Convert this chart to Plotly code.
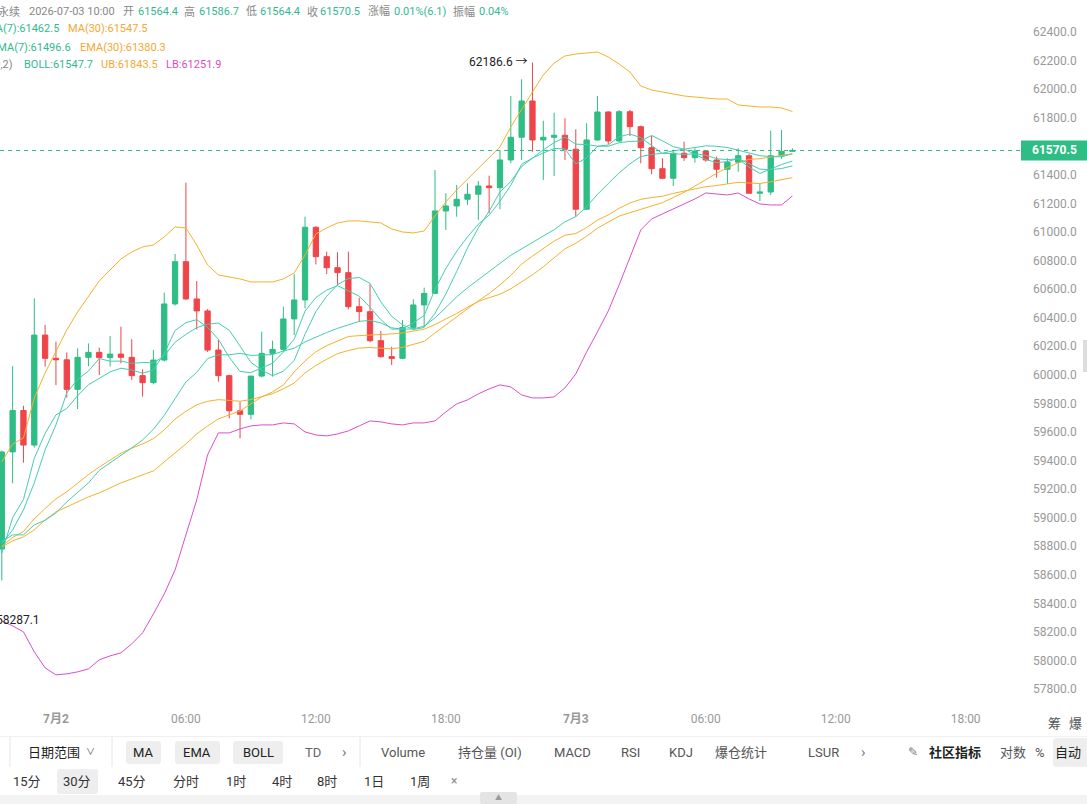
import plotly.graph_objects as go

# ---------------- data ----------------
# 30-minute candles, first = 7月1 21:30, last = 7月3 10:00
candle_idx = list(range(74))

opens = [58780, 59460, 59750, 59508, 60278, 60115, 60105, 59898, 60122, 60157,
         60120, 60145, 60122, 59994, 59945, 60103, 60496, 60792, 60531, 60447,
         60173, 59994, 59748, 59723, 59991, 60150, 60178, 60391, 60524, 61033,
         60827, 60750, 60715, 60477, 60442, 60239, 60127, 60115, 60332, 60489,
         60570, 61147, 61182, 61229, 61264, 61322, 61310, 61504, 61663, 61917,
         61644, 61663, 61677, 61579, 61159, 61644, 61840, 61637, 61842, 61737,
         61590, 61443, 61376, 61551, 61520, 61567, 61504, 61439, 61488, 61534,
         61271, 61280, 61534, 61564.4]
highs = [59470, 60060, 59783, 60535, 60349, 60232, 60157, 60185, 60220, 60190,
         60271, 60337, 60250, 60038, 60173, 60575, 60846, 61345, 60657, 60460,
         60243, 60000, 59811, 59992, 60302, 60239, 60477, 60704, 61107, 61040,
         60862, 60858, 60862, 60540, 60634, 60307, 60197, 60384, 60528, 60610,
         61434, 61271, 61329, 61341, 61357, 61394, 61574, 61952, 62069, 62186.6,
         61779, 61835, 61796, 61719, 61761, 61952, 61845, 61854, 61854, 61745,
         61672, 61516, 61574, 61632, 61586, 61574, 61527, 61516, 61586, 61546,
         61336, 61709, 61714, 61586.7]
lows = [58560, 59240, 59385, 59490, 60057, 59928, 59840, 59760, 60061, 59998,
        60057, 60080, 59963, 59847, 59933, 60092, 60485, 60525, 60318, 60160,
        59952, 59695, 59555, 59688, 59982, 59987, 60162, 60278, 60466, 60773,
        60706, 60629, 60458, 60372, 60227, 60120, 60068, 60110, 60314, 60337,
        60565, 61014, 61107, 61189, 61084, 61131, 61159, 61481, 61504, 61562,
        61364, 61392, 61504, 61107, 61154, 61640, 61614, 61630, 61672, 61481,
        61404, 61370, 61322, 61497, 61485, 61492, 61380, 61336, 61422, 61268,
        61217, 61259, 61511, 61564.4]
closes = [59460, 59750, 59508, 60278, 60115, 60105, 59898, 60122, 60157, 60120,
          60145, 60122, 59994, 59945, 60103, 60496, 60792, 60531, 60447, 60173,
          59994, 59748, 59723, 59991, 60150, 60178, 60391, 60524, 61033, 60827,
          60750, 60715, 60477, 60442, 60239, 60127, 60115, 60332, 60489, 60570,
          61147, 61182, 61229, 61264, 61322, 61310, 61504, 61663, 61917, 61644,
          61663, 61677, 61579, 61159, 61644, 61840, 61637, 61842, 61737, 61590,
          61443, 61376, 61551, 61520, 61567, 61504, 61439, 61488, 61534, 61271,
          61280, 61534, 61564.4, 61570.5]

ma7 = [58816, 58914, 59054, 59243, 59474, 59649, 59873, 59968, 60026, 60114,
       60095, 60096, 60080, 60086, 60084, 60132, 60228, 60283, 60330, 60355,
       60362, 60312, 60201, 60087, 60032, 59994, 60025, 60101, 60284, 60442,
       60550, 60631, 60674, 60681, 60640, 60511, 60409, 60350, 60317, 60331,
       60431, 60566, 60723, 60888, 61029, 61146, 61280, 61353, 61458, 61518,
       61575, 61625, 61664, 61615, 61612, 61601, 61600, 61625, 61634, 61636,
       61676, 61638, 61597, 61580, 61541, 61507, 61486, 61492, 61515, 61475,
       61440, 61436, 61444, 61462.5]
ema7 = [58750, 59000, 59127, 59415, 59590, 59719, 59764, 59854, 59930, 59978,
        60020, 60046, 60033, 60011, 60034, 60150, 60310, 60365, 60386, 60333,
        60248, 60123, 60023, 60015, 60049, 60081, 60159, 60250, 60446, 60541,
        60593, 60624, 60587, 60551, 60473, 60386, 60319, 60322, 60364, 60415,
        60598, 60744, 60865, 60965, 61054, 61118, 61215, 61327, 61474, 61517,
        61553, 61584, 61583, 61477, 61519, 61599, 61609, 61667, 61685, 61661,
        61606, 61549, 61549, 61542, 61548, 61537, 61513, 61506, 61513, 61453,
        61410, 61441, 61472, 61496.6]
ma30 = [58795, 58837, 58865, 58914, 58984, 59040, 59075, 59110, 59145, 59173,
        59208, 59243, 59271, 59299, 59327, 59390, 59453, 59516, 59586, 59642,
        59691, 59719, 59747, 59796, 59845, 59880, 59929, 60020, 60097, 60161,
        60204, 60236, 60268, 60274, 60278, 60279, 60286, 60293, 60304, 60319,
        60352, 60388, 60429, 60473, 60513, 60540, 60564, 60602, 60651, 60700,
        60756, 60820, 60882, 60921, 60970, 61026, 61067, 61111, 61135, 61160,
        61183, 61205, 61241, 61277, 61321, 61367, 61411, 61450, 61485, 61508,
        61513, 61524, 61535, 61547.5]
ema30 = [58800, 58861, 58903, 58992, 59064, 59131, 59181, 59242, 59301, 59354,
         59405, 59451, 59486, 59516, 59553, 59614, 59690, 59744, 59790, 59814,
         59826, 59821, 59815, 59826, 59847, 59868, 59902, 59942, 60013, 60065,
         60109, 60148, 60170, 60187, 60191, 60186, 60182, 60192, 60211, 60234,
         60293, 60350, 60407, 60462, 60518, 60569, 60629, 60696, 60775, 60831,
         60884, 60936, 60977, 60989, 61031, 61083, 61119, 61166, 61203, 61228,
         61241, 61250, 61270, 61286, 61304, 61317, 61325, 61335, 61348, 61343,
         61339, 61351, 61365, 61380.3]
boll_mid = [58834, 58879, 58879, 58949, 58981, 59033, 59110, 59180, 59243, 59331,
            59383, 59432, 59488, 59544, 59618, 59716, 59835, 59950, 60017, 60113,
            60140, 60140, 60150, 60136, 60138, 60142, 60166, 60186, 60230, 60265,
            60296, 60325, 60349, 60374, 60381, 60363, 60329, 60319, 60321, 60341,
            60398, 60470, 60545, 60609, 60668, 60724, 60780, 60837, 60881, 60922,
            60968, 61016, 61071, 61107, 61177, 61263, 61339, 61414, 61477, 61528,
            61542, 61552, 61568, 61581, 61593, 61603, 61600, 61591, 61572, 61553,
            61534, 61527, 61526, 61547.7]
boll_ub = [59390, 59516, 59558, 59838, 60013, 60167, 60314, 60440, 60545, 60657,
           60734, 60811, 60860, 60895, 60909, 60965, 61035, 61028, 60909, 60769,
           60699, 60685, 60671, 60650, 60650, 60650, 60671, 60713, 60839, 60986,
           61028, 61063, 61077, 61077, 61070, 61063, 61021, 61000, 60993, 61007,
           61112, 61210, 61294, 61371, 61448, 61518, 61595, 61735, 61861, 61980,
           62099, 62183, 62232, 62246, 62253, 62260, 62225, 62176, 62120, 62022,
           61994, 61980, 61966, 61952, 61945, 61938, 61931, 61931, 61889, 61882,
           61875, 61875, 61868, 61843.5]
boll_lb = [58277, 58242, 58200, 58060, 57948, 57899, 57906, 57920, 57941, 58004,
           58032, 58053, 58116, 58193, 58326, 58466, 58634, 58872, 59124, 59439,
           59593, 59593, 59621, 59642, 59649, 59649, 59663, 59656, 59600, 59579,
           59572, 59586, 59607, 59642, 59677, 59670, 59656, 59649, 59663, 59663,
           59677, 59740, 59796, 59824, 59866, 59901, 59929, 59915, 59859, 59838,
           59838, 59845, 59908, 60006, 60160, 60300, 60447, 60629, 60818, 61014,
           61091, 61126, 61161, 61196, 61231, 61273, 61266, 61259, 61273, 61231,
           61196, 61189, 61189, 61251.9]

x_tick_idx = [5, 17, 29, 41, 53, 65, 77, 89]
x_tick_text = ["<b>7月2</b>", "06:00", "12:00", "18:00", "<b>7月3</b>", "06:00", "12:00", "18:00"]
# 61600.0 sits under the last-price tag in the reference, so it is not shown
y_tick_vals = [v for v in [57800 + 200 * k for k in range(24)] if v != 61600]
y_tick_text = [f"{v:.1f}" for v in y_tick_vals]

last_price = 61570.5
high_mark = 62186.6
low_mark = 58287.1

# ---------------- styling ----------------
GREEN = "#2ebd85"
RED = "#ef454a"
TEAL = "#45cdb0"
ORANGE = "#f5b12c"
MAGENTA = "#db4fcb"
TEAL_TXT = "#33b891"
ORANGE_TXT = "#f2a834"
MAG_TXT = "#d54fc3"
FONT = "Roboto, 'Noto Sans CJK SC', sans-serif"

W, H = 1087, 804
PW, PH = 1020, 710  # plot area in pixels (left=0, top=0)


def px(x):
    return x / PW


def py(y):
    return (PH - y) / PH


fig = go.Figure()
fig.add_trace(go.Candlestick(
    x=candle_idx, open=opens, high=highs, low=lows, close=closes,
    increasing=dict(line=dict(color=GREEN, width=1), fillcolor=GREEN),
    decreasing=dict(line=dict(color=RED, width=1), fillcolor=RED),
    whiskerwidth=0, showlegend=False, hoverinfo="skip"))

for series, col in [(ma30, ORANGE), (ema30, ORANGE), (boll_ub, ORANGE),
                    (boll_lb, MAGENTA), (boll_mid, TEAL), (ma7, TEAL), (ema7, TEAL)]:
    fig.add_trace(go.Scatter(x=candle_idx, y=series, mode="lines",
                             line=dict(color=col, width=1), showlegend=False,
                             hoverinfo="skip"))

ann = []


def txt(x, y, t, color="#333", size=13, anchor="center", family=FONT):
    ann.append(dict(x=px(x), y=py(y), xref="paper", yref="paper", text=t,
                    showarrow=False, xanchor=anchor, yanchor="middle",
                    font=dict(family=family, size=size, color=color)))


# header / indicator legend
LS = 11
txt(22, 12, "BTCUSDT 永续", "#888", LS, "right")
txt(27, 12, "2026-07-03 10:00", "#888", LS, "left")
for lab, lx, val, vx in [("开", 121, "61564.4", 136), ("高", 182, "61586.7", 197),
                         ("低", 244, "61564.4", 258), ("收", 305, "61570.5", 318),
                         ("涨幅", 366, "0.01%(6.1)", 392), ("振幅", 451, "0.04%", 477)]:
    txt(lx, 12, lab, "#888", LS, "left")
    txt(vx, 12, val, TEAL_TXT, LS, "left")
txt(61, 29, "MA(7):61462.5", TEAL_TXT, LS, "right")
txt(66, 29, "MA(30):61547.5", ORANGE_TXT, LS, "left")
txt(73, 47, "EMA(7):61496.6", TEAL_TXT, LS, "right")
txt(78, 47, "EMA(30):61380.3", ORANGE_TXT, LS, "left")
txt(15, 65, "BOLL(20,2)", "#888", LS, "right")
txt(22, 65, "BOLL:61547.7", TEAL_TXT, LS, "left")
txt(99, 65, "UB:61843.5", ORANGE_TXT, LS, "left")
txt(164, 65, "LB:61251.9", MAG_TXT, LS, "left")

# high / low markers
ann.append(dict(x=49 - 0.2, y=high_mark, xref="x", yref="y", text=f"{high_mark:.1f} →",
                showarrow=False, xanchor="right", yanchor="middle",
                font=dict(family=FONT, size=12, color="#222")))
txt(42, 620, f"← {low_mark:.1f}", "#222", 12, "right")

# last price tag
ann.append(dict(x=px(1054), y=last_price, xref="paper", yref="y",
                text=f"<b>{last_price:.1f}</b>", showarrow=False,
                xanchor="center", yanchor="middle",
                font=dict(family=FONT, size=12, color="white")))

# x-axis row extras
txt(1054, 723, "筹", "#555", 13)
txt(1075, 723, "爆", "#555", 13)

# toolbar row 1
R1 = 752
txt(54, R1, "日期范围", "#222", 13)
txt(90, R1, "∨", "#555", 9)
txt(143, R1, "MA", "#222", 13)
txt(197, R1, "EMA", "#222", 13)
txt(258, R1, "BOLL", "#222", 13)
txt(313, R1, "TD", "#666", 13)
txt(344, R1, "›", "#777", 15)
for label, cx in [("Volume", 403), ("持仓量 (OI)", 490), ("MACD", 572), ("RSI", 630),
                  ("KDJ", 681), ("爆仓统计", 741), ("LSUR", 823)]:
    txt(cx, R1, label, "#555", 13)
txt(863, R1, "›", "#777", 15)
txt(913, R1, "✎", "#777", 12)
txt(955, R1, "<b>社区指标</b>", "#222", 13)
txt(1013, R1, "对数", "#555", 13)
txt(1040, R1, "%", "#555", 13)
txt(1068, R1, "自动", "#222", 13)

# toolbar row 2
R2 = 781
for label, cx in [("15分", 27), ("30分", 77), ("45分", 132), ("分时", 186), ("1时", 236),
                  ("4时", 282), ("8时", 327), ("1日", 374), ("1周", 420)]:
    txt(cx, R2, label, "#333", 13)
txt(454, R2, "×", "#888", 12)
txt(498, 798, "▲", "#999", 7)

shapes = []


def rect(x0, y0, x1, y1, color, r=0):
    if r == 0:
        shapes.append(dict(type="rect", xref="paper", yref="paper",
                           x0=px(x0), x1=px(x1), y0=py(y1), y1=py(y0),
                           fillcolor=color, line=dict(width=0), layer="below"))
    else:
        X0, X1, Y0, Y1 = px(x0), px(x1), py(y1), py(y0)
        rx, ry = r / PW, r / PH
        path = (f"M {X0 + rx},{Y0} L {X1 - rx},{Y0} Q {X1},{Y0} {X1},{Y0 + ry} "
                f"L {X1},{Y1 - ry} Q {X1},{Y1} {X1 - rx},{Y1} L {X0 + rx},{Y1} "
                f"Q {X0},{Y1} {X0},{Y1 - ry} L {X0},{Y0 + ry} Q {X0},{Y0} {X0 + rx},{Y0} Z")
        shapes.append(dict(type="path", xref="paper", yref="paper", path=path,
                           fillcolor=color, line=dict(width=0), layer="below"))


def vline(x, y0, y1, color="#e6e6e6"):
    shapes.append(dict(type="line", xref="paper", yref="paper",
                       x0=px(x), x1=px(x), y0=py(y0), y1=py(y1),
                       line=dict(color=color, width=1)))


# pills
rect(126, 741, 161, 764, "#eeeeee", 3)
rect(175, 741, 220, 764, "#eeeeee", 3)
rect(233, 741, 283, 764, "#eeeeee", 3)
rect(1053, 738, 1090, 767, "#eeeeee", 3)
rect(57, 769, 98, 794, "#eeeeee", 3)
# separators and borders
shapes.append(dict(type="line", xref="paper", yref="paper", x0=px(0), x1=px(W),
                   y0=py(736.5), y1=py(736.5), line=dict(color="#f0f0f0", width=1)))
vline(10, 737, 767)
vline(112, 737, 767)
vline(360, 737, 767)
# bottom strip with tab
rect(0, 795, W, 804, "#f3f3f3")
rect(480, 792, 517, 804, "#e4e4e4", 2)
# right edge handle
rect(1083, 340, 1087, 372, "#dddddd")
# last price dashed line and tag
shapes.append(dict(type="line", xref="paper", yref="y", x0=0, x1=1,
                   y0=last_price, y1=last_price,
                   line=dict(color=GREEN, width=1, dash="4px,4px")))
shapes.append(dict(type="rect", xref="paper", yref="y", x0=px(1021), x1=px(1087),
                   y0=last_price - 10 * 7.0015, y1=last_price + 10 * 7.0015,
                   fillcolor=GREEN, line=dict(width=0)))

y_top = 62400 + 32 * 7.0015
y_bot = y_top - PH * 7.0015

fig.update_layout(
    template="none",
    width=W, height=H,
    margin=dict(l=0, r=W - PW, t=0, b=H - PH, pad=0),
    paper_bgcolor="white", plot_bgcolor="white",
    showlegend=False,
    font=dict(family=FONT),
    xaxis=dict(range=[-1.8 / 10.83, -1.8 / 10.83 + PW / 10.83], showgrid=False,
               zeroline=False, showline=False, ticks="", tickvals=x_tick_idx,
               ticktext=x_tick_text, tickfont=dict(size=12, color="#999", family=FONT),
               rangeslider=dict(visible=False), automargin=False, fixedrange=True),
    yaxis=dict(range=[y_bot, y_top], side="right", showgrid=False, zeroline=False,
               showline=False, ticks="", tickvals=y_tick_vals, ticktext=y_tick_text,
               tickfont=dict(size=12, color="#999", family=FONT), ticklabelstandoff=12,
               automargin=False, fixedrange=True),
    annotations=ann,
    shapes=shapes,
)

fig.write_html("out.html")
